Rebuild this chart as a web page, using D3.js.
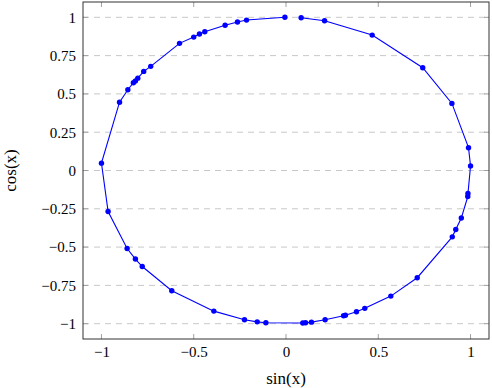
<!DOCTYPE html>
<html>
<head>
<meta charset="utf-8">
<script src="https://cdn.jsdelivr.net/npm/d3@7"></script>
<style>
  body { margin: 0; background: #fff; }
  svg text { font-family: "Liberation Serif", "DejaVu Serif", serif; fill: #000; }
</style>
</head>
<body>
<svg id="chart" width="492" height="388"></svg>
<script>
// points, in drawing order (clockwise from the top)
var sinX = [0.082, 0.209, 0.467, 0.741, 0.899, 0.989, 1.0, 0.986, 0.985, 0.950,
  0.920, 0.901, 0.711, 0.568, 0.427, 0.382, 0.322, 0.312, 0.212, 0.138,
  0.106, 0.091, -0.109, -0.156, -0.225, -0.391, -0.619, -0.779, -0.816, -0.861,
  -0.964, -1.0, -0.902, -0.857, -0.827, -0.816, -0.803, -0.771, -0.733, -0.577,
  -0.500, -0.469, -0.440, -0.330, -0.263, -0.214, -0.006];
var cosX = [0.997, 0.978, 0.884, 0.671, 0.438, 0.149, 0.03, -0.15, -0.17, -0.31,
  -0.385, -0.433, -0.70, -0.82, -0.90, -0.922, -0.945, -0.948, -0.974, -0.99,
  -0.994, -0.996, -0.994, -0.988, -0.974, -0.918, -0.785, -0.627, -0.578, -0.509,
  -0.268, 0.048, 0.446, 0.527, 0.573, 0.585, 0.603, 0.647, 0.680, 0.830,
  0.871, 0.891, 0.906, 0.948, 0.969, 0.982, 1.0];
var xTicks = [-1, -0.5, 0, 0.5, 1];
var yTicks = [-1, -0.75, -0.5, -0.25, 0, 0.25, 0.5, 0.75, 1];

(function() {
	var svg = d3.select('#chart'),
		pLeft = 83, pRight = 489, pTop = 2, pBottom = 339;

	var x = d3.scaleLinear().domain([-1.1, 1.1]).range([pLeft, pRight]),
		y = d3.scaleLinear().domain([-1.1, 1.1]).range([pBottom, pTop]);

	var fmt = function(d) {
		return (d < 0 ? '\u2212' : '') + String(Math.abs(d));
	};

	// horizontal dashed grid
	svg.append('g').selectAll('line')
			.data(yTicks)
		.enter().append('line')
			.attr('x1', pLeft).attr('x2', pRight)
			.attr('y1', function(d) { return y(d); })
			.attr('y2', function(d) { return y(d); })
			.attr('stroke', '#c8c8c8')
			.attr('stroke-width', 1)
			.attr('stroke-dasharray', '6,5');

	// tick marks on all four sides, pointing in
	var tickLen = 5;
	var tk = svg.append('g').attr('stroke', '#a0a0a0').attr('stroke-width', 1);
	xTicks.forEach(function(d) {
		tk.append('line').attr('x1', x(d)).attr('x2', x(d)).attr('y1', pBottom).attr('y2', pBottom - tickLen);
		tk.append('line').attr('x1', x(d)).attr('x2', x(d)).attr('y1', pTop).attr('y2', pTop + tickLen);
	});
	yTicks.forEach(function(d) {
		tk.append('line').attr('y1', y(d)).attr('y2', y(d)).attr('x1', pLeft).attr('x2', pLeft + tickLen);
		tk.append('line').attr('y1', y(d)).attr('y2', y(d)).attr('x1', pRight).attr('x2', pRight - tickLen);
	});

	// axis labels
	var xAxis = svg.append('g')
		.attr('transform', 'translate(0,' + pBottom + ')')
		.call(d3.axisBottom(x).tickValues(xTicks).tickFormat(fmt).tickSize(0).tickPadding(7));
	var yAxis = svg.append('g')
		.attr('transform', 'translate(' + pLeft + ',0)')
		.call(d3.axisLeft(y).tickValues(yTicks).tickFormat(fmt).tickSize(0).tickPadding(7));
	[xAxis, yAxis].forEach(function(g) {
		g.select('.domain').remove();
		g.selectAll('text')
			.style('font-family', '"Liberation Serif", serif')
			.style('font-size', '15px')
			.attr('fill', '#000');
	});

	// frame
	svg.append('rect')
		.attr('x', pLeft).attr('y', pTop)
		.attr('width', pRight - pLeft).attr('height', pBottom - pTop)
		.attr('fill', 'none').attr('stroke', '#333').attr('stroke-width', 1);

	// data
	var pts = sinX.map(function(s, i) { return [s, cosX[i]]; });
	var line = d3.line()
		.x(function(d) { return x(d[0]); })
		.y(function(d) { return y(d[1]); });

	svg.append('path')
		.datum(pts)
		.attr('d', line)
		.attr('fill', 'none')
		.attr('stroke', '#0000ff')
		.attr('stroke-width', 1.1);

	svg.selectAll('circle')
			.data(pts)
		.enter().append('circle')
			.attr('cx', function(d) { return x(d[0]); })
			.attr('cy', function(d) { return y(d[1]); })
			.attr('r', 2.7)
			.attr('fill', '#0000ff');

	// axis titles
	svg.append('text')
		.attr('x', (pLeft + pRight) / 2).attr('y', 384)
		.attr('text-anchor', 'middle')
		.style('font-size', '17px')
		.text('sin(x)');
	svg.append('text')
		.attr('transform', 'translate(16,' + ((pTop + pBottom) / 2) + ') rotate(-90)')
		.attr('text-anchor', 'middle')
		.style('font-size', '17px')
		.text('cos(x)');
})();
</script>
</body>
</html>
